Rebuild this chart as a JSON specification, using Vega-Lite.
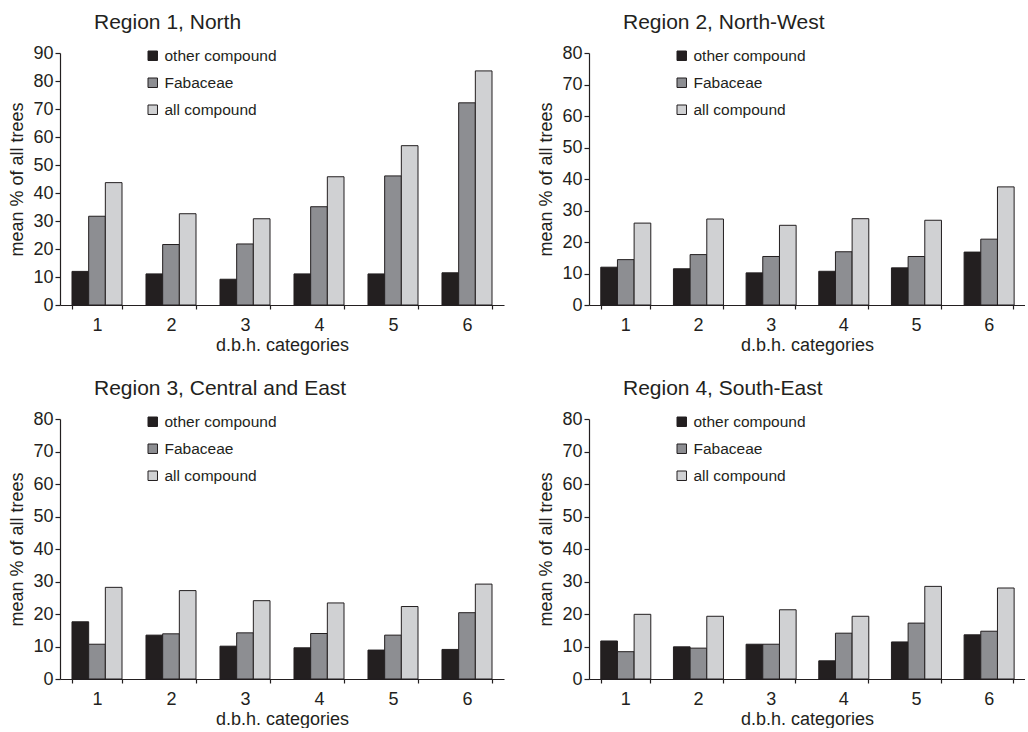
{
  "$schema": "https://vega.github.io/schema/vega-lite/v6.json",
  "padding": {"left": 8, "top": 12, "right": 0, "bottom": 0},
  "background": "white",
  "data": {"values": [
    {"region": 1, "dbh": "1", "series": "other compound", "value": 12.0},
    {"region": 1, "dbh": "1", "series": "Fabaceae", "value": 31.7},
    {"region": 1, "dbh": "1", "series": "all compound", "value": 43.7},
    {"region": 1, "dbh": "2", "series": "other compound", "value": 11.1},
    {"region": 1, "dbh": "2", "series": "Fabaceae", "value": 21.6},
    {"region": 1, "dbh": "2", "series": "all compound", "value": 32.6},
    {"region": 1, "dbh": "3", "series": "other compound", "value": 9.2},
    {"region": 1, "dbh": "3", "series": "Fabaceae", "value": 21.8},
    {"region": 1, "dbh": "3", "series": "all compound", "value": 30.8},
    {"region": 1, "dbh": "4", "series": "other compound", "value": 11.1},
    {"region": 1, "dbh": "4", "series": "Fabaceae", "value": 35.1},
    {"region": 1, "dbh": "4", "series": "all compound", "value": 45.8},
    {"region": 1, "dbh": "5", "series": "other compound", "value": 11.1},
    {"region": 1, "dbh": "5", "series": "Fabaceae", "value": 46.1},
    {"region": 1, "dbh": "5", "series": "all compound", "value": 56.9},
    {"region": 1, "dbh": "6", "series": "other compound", "value": 11.5},
    {"region": 1, "dbh": "6", "series": "Fabaceae", "value": 72.2},
    {"region": 1, "dbh": "6", "series": "all compound", "value": 83.6},
    {"region": 2, "dbh": "1", "series": "other compound", "value": 12.0},
    {"region": 2, "dbh": "1", "series": "Fabaceae", "value": 14.4},
    {"region": 2, "dbh": "1", "series": "all compound", "value": 26.0},
    {"region": 2, "dbh": "2", "series": "other compound", "value": 11.5},
    {"region": 2, "dbh": "2", "series": "Fabaceae", "value": 16.0},
    {"region": 2, "dbh": "2", "series": "all compound", "value": 27.3},
    {"region": 2, "dbh": "3", "series": "other compound", "value": 10.2},
    {"region": 2, "dbh": "3", "series": "Fabaceae", "value": 15.4},
    {"region": 2, "dbh": "3", "series": "all compound", "value": 25.3},
    {"region": 2, "dbh": "4", "series": "other compound", "value": 10.7},
    {"region": 2, "dbh": "4", "series": "Fabaceae", "value": 16.9},
    {"region": 2, "dbh": "4", "series": "all compound", "value": 27.4},
    {"region": 2, "dbh": "5", "series": "other compound", "value": 11.8},
    {"region": 2, "dbh": "5", "series": "Fabaceae", "value": 15.4},
    {"region": 2, "dbh": "5", "series": "all compound", "value": 26.9},
    {"region": 2, "dbh": "6", "series": "other compound", "value": 16.8},
    {"region": 2, "dbh": "6", "series": "Fabaceae", "value": 20.9},
    {"region": 2, "dbh": "6", "series": "all compound", "value": 37.5},
    {"region": 3, "dbh": "1", "series": "other compound", "value": 17.6},
    {"region": 3, "dbh": "1", "series": "Fabaceae", "value": 10.7},
    {"region": 3, "dbh": "1", "series": "all compound", "value": 28.2},
    {"region": 3, "dbh": "2", "series": "other compound", "value": 13.5},
    {"region": 3, "dbh": "2", "series": "Fabaceae", "value": 13.9},
    {"region": 3, "dbh": "2", "series": "all compound", "value": 27.2},
    {"region": 3, "dbh": "3", "series": "other compound", "value": 10.1},
    {"region": 3, "dbh": "3", "series": "Fabaceae", "value": 14.2},
    {"region": 3, "dbh": "3", "series": "all compound", "value": 24.1},
    {"region": 3, "dbh": "4", "series": "other compound", "value": 9.6},
    {"region": 3, "dbh": "4", "series": "Fabaceae", "value": 14.0},
    {"region": 3, "dbh": "4", "series": "all compound", "value": 23.4},
    {"region": 3, "dbh": "5", "series": "other compound", "value": 8.9},
    {"region": 3, "dbh": "5", "series": "Fabaceae", "value": 13.5},
    {"region": 3, "dbh": "5", "series": "all compound", "value": 22.3},
    {"region": 3, "dbh": "6", "series": "other compound", "value": 9.1},
    {"region": 3, "dbh": "6", "series": "Fabaceae", "value": 20.4},
    {"region": 3, "dbh": "6", "series": "all compound", "value": 29.2},
    {"region": 4, "dbh": "1", "series": "other compound", "value": 11.7},
    {"region": 4, "dbh": "1", "series": "Fabaceae", "value": 8.4},
    {"region": 4, "dbh": "1", "series": "all compound", "value": 19.9},
    {"region": 4, "dbh": "2", "series": "other compound", "value": 9.9},
    {"region": 4, "dbh": "2", "series": "Fabaceae", "value": 9.5},
    {"region": 4, "dbh": "2", "series": "all compound", "value": 19.3},
    {"region": 4, "dbh": "3", "series": "other compound", "value": 10.7},
    {"region": 4, "dbh": "3", "series": "Fabaceae", "value": 10.7},
    {"region": 4, "dbh": "3", "series": "all compound", "value": 21.3},
    {"region": 4, "dbh": "4", "series": "other compound", "value": 5.6},
    {"region": 4, "dbh": "4", "series": "Fabaceae", "value": 14.1},
    {"region": 4, "dbh": "4", "series": "all compound", "value": 19.3},
    {"region": 4, "dbh": "5", "series": "other compound", "value": 11.4},
    {"region": 4, "dbh": "5", "series": "Fabaceae", "value": 17.2},
    {"region": 4, "dbh": "5", "series": "all compound", "value": 28.5},
    {"region": 4, "dbh": "6", "series": "other compound", "value": 13.6},
    {"region": 4, "dbh": "6", "series": "Fabaceae", "value": 14.7},
    {"region": 4, "dbh": "6", "series": "all compound", "value": 28.0}
  ]},
  "spacing": 24,
  "resolve": {"scale": {"color": "independent"}, "legend": {"color": "independent"}},
  "vconcat": [
    {
      "spacing": 33,
      "resolve": {"scale": {"color": "independent"}, "legend": {"color": "independent"}},
      "hconcat": [
        {
          "title": "Region 1, North",
          "width": 444, "height": 252,
          "transform": [{"filter": "datum.region == 1"}],
          "mark": "bar",
          "encoding": {
            "x": {"field": "dbh", "type": "ordinal", "title": "d.b.h. categories", "scale": {"paddingInner": 0.324, "paddingOuter": 0.162}},
            "xOffset": {"field": "series", "sort": ["other compound", "Fabaceae", "all compound"], "scale": {"paddingInner": 0, "paddingOuter": 0}},
            "y": {"field": "value", "type": "quantitative", "title": "mean % of all trees", "scale": {"domain": [0, 90], "nice": false}, "axis": {"values": [0, 10, 20, 30, 40, 50, 60, 70, 80, 90]}},
            "color": {"field": "series", "type": "nominal", "scale": {"domain": ["other compound", "Fabaceae", "all compound"], "range": ["#231f20", "#8d8e92", "#d0d1d3"]}}
          }
        },
        {
          "title": "Region 2, North-West",
          "width": 436, "height": 252,
          "transform": [{"filter": "datum.region == 2"}],
          "mark": "bar",
          "encoding": {
            "x": {"field": "dbh", "type": "ordinal", "title": "d.b.h. categories", "scale": {"paddingInner": 0.324, "paddingOuter": 0.162}},
            "xOffset": {"field": "series", "sort": ["other compound", "Fabaceae", "all compound"], "scale": {"paddingInner": 0, "paddingOuter": 0}},
            "y": {"field": "value", "type": "quantitative", "title": "mean % of all trees", "scale": {"domain": [0, 80], "nice": false}, "axis": {"values": [0, 10, 20, 30, 40, 50, 60, 70, 80]}},
            "color": {"field": "series", "type": "nominal", "scale": {"domain": ["other compound", "Fabaceae", "all compound"], "range": ["#231f20", "#8d8e92", "#d0d1d3"]}}
          }
        }
      ]
    },
    {
      "spacing": 33,
      "resolve": {"scale": {"color": "independent"}, "legend": {"color": "independent"}},
      "hconcat": [
        {
          "title": "Region 3, Central and East",
          "width": 444, "height": 260,
          "transform": [{"filter": "datum.region == 3"}],
          "mark": "bar",
          "encoding": {
            "x": {"field": "dbh", "type": "ordinal", "title": "d.b.h. categories", "scale": {"paddingInner": 0.324, "paddingOuter": 0.162}},
            "xOffset": {"field": "series", "sort": ["other compound", "Fabaceae", "all compound"], "scale": {"paddingInner": 0, "paddingOuter": 0}},
            "y": {"field": "value", "type": "quantitative", "title": "mean % of all trees", "scale": {"domain": [0, 80], "nice": false}, "axis": {"values": [0, 10, 20, 30, 40, 50, 60, 70, 80]}},
            "color": {"field": "series", "type": "nominal", "scale": {"domain": ["other compound", "Fabaceae", "all compound"], "range": ["#231f20", "#8d8e92", "#d0d1d3"]}}
          }
        },
        {
          "title": "Region 4, South-East",
          "width": 436, "height": 260,
          "transform": [{"filter": "datum.region == 4"}],
          "mark": "bar",
          "encoding": {
            "x": {"field": "dbh", "type": "ordinal", "title": "d.b.h. categories", "scale": {"paddingInner": 0.324, "paddingOuter": 0.162}},
            "xOffset": {"field": "series", "sort": ["other compound", "Fabaceae", "all compound"], "scale": {"paddingInner": 0, "paddingOuter": 0}},
            "y": {"field": "value", "type": "quantitative", "title": "mean % of all trees", "scale": {"domain": [0, 80], "nice": false}, "axis": {"values": [0, 10, 20, 30, 40, 50, 60, 70, 80]}},
            "color": {"field": "series", "type": "nominal", "scale": {"domain": ["other compound", "Fabaceae", "all compound"], "range": ["#231f20", "#8d8e92", "#d0d1d3"]}}
          }
        }
      ]
    }
  ],
  "config": {
    "font": "Liberation Sans",
    "view": {"stroke": null},
    "bar": {"stroke": "#231f20", "strokeWidth": 1},
    "axis": {
      "grid": false,
      "domainColor": "#231f20",
      "domainWidth": 1.2,
      "tickColor": "#231f20",
      "tickWidth": 1.2,
      "labelColor": "#231f20",
      "titleColor": "#231f20",
      "labelFont": "Liberation Sans",
      "titleFont": "Liberation Sans",
      "labelFontSize": 18,
      "titleFontSize": 18,
      "titleFontWeight": "normal"
    },
    "axisX": {"tickBand": "extent", "labelAngle": 0, "tickSize": 4, "labelPadding": 7, "titlePadding": 2},
    "axisY": {"tickSize": 5, "labelPadding": 2, "titlePadding": 6},
    "legend": {
      "orient": "none",
      "legendX": 85,
      "legendY": -5,
      "title": null,
      "symbolType": "square",
      "symbolSize": 90,
      "symbolStrokeColor": "#231f20",
      "symbolStrokeWidth": 1,
      "labelFont": "Liberation Sans",
      "labelFontSize": 15.5,
      "labelColor": "#231f20",
      "labelOffset": 4,
      "rowPadding": 10
    },
    "title": {
      "anchor": "start",
      "frame": "group",
      "dx": 34,
      "offset": 11,
      "font": "Liberation Sans",
      "fontSize": 21,
      "fontWeight": "normal",
      "color": "#231f20"
    }
  }
}
